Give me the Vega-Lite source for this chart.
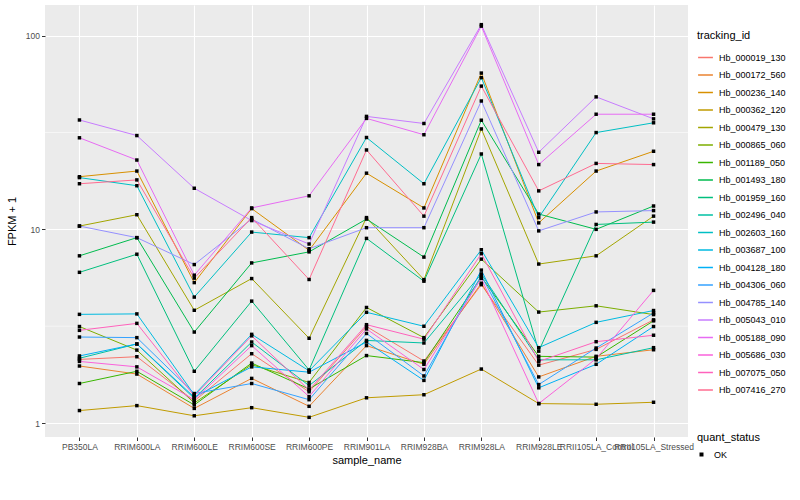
{
  "$schema": "https://vega.github.io/schema/vega-lite/v6.json",
  "width": 643,
  "height": 432,
  "autosize": {"type": "none"},
  "padding": {"left": 45, "top": 5, "right": 112, "bottom": 63},
  "background": "white",
  "config": {
    "font": "Liberation Sans",
    "view": {"fill": "#EBEBEB", "stroke": null},
    "axis": {
      "domain": false,
      "gridColor": "white",
      "gridWidth": 1.1,
      "tickColor": "#333333",
      "tickSize": 3.5,
      "labelColor": "#4D4D4D",
      "labelFont": "Liberation Sans",
      "labelFontSize": 8.5,
      "titleFont": "Liberation Sans",
      "titleFontSize": 11,
      "titleFontWeight": "normal",
      "titleColor": "black"
    },
    "legend": {
      "titleFont": "Liberation Sans",
      "titleFontSize": 11,
      "titleFontWeight": "normal",
      "titleColor": "black",
      "labelFont": "Liberation Sans",
      "labelFontSize": 9,
      "labelColor": "black"
    }
  },
  "datasets": {
    "minor": [{"fpkm1": 3.1623}, {"fpkm1": 31.623}],
    "expr": [
      {"tracking_id": "Hb_000019_130", "sample_name": "PB350LA", "fpkm1": 2.13, "quant_status": "OK"},
      {"tracking_id": "Hb_000019_130", "sample_name": "RRIM600LA", "fpkm1": 2.20, "quant_status": "OK"},
      {"tracking_id": "Hb_000019_130", "sample_name": "RRIM600LE", "fpkm1": 1.30, "quant_status": "OK"},
      {"tracking_id": "Hb_000019_130", "sample_name": "RRIM600SE", "fpkm1": 2.28, "quant_status": "OK"},
      {"tracking_id": "Hb_000019_130", "sample_name": "RRIM600PE", "fpkm1": 1.45, "quant_status": "OK"},
      {"tracking_id": "Hb_000019_130", "sample_name": "RRIM901LA", "fpkm1": 3.15, "quant_status": "OK"},
      {"tracking_id": "Hb_000019_130", "sample_name": "RRIM928BA", "fpkm1": 2.09, "quant_status": "OK"},
      {"tracking_id": "Hb_000019_130", "sample_name": "RRIM928LA", "fpkm1": 5.18, "quant_status": "OK"},
      {"tracking_id": "Hb_000019_130", "sample_name": "RRIM928LE", "fpkm1": 1.99, "quant_status": "OK"},
      {"tracking_id": "Hb_000019_130", "sample_name": "RRII105LA_Control", "fpkm1": 2.40, "quant_status": "OK"},
      {"tracking_id": "Hb_000019_130", "sample_name": "RRII105LA_Stressed", "fpkm1": 3.41, "quant_status": "OK"},

      {"tracking_id": "Hb_000172_560", "sample_name": "PB350LA", "fpkm1": 1.97, "quant_status": "OK"},
      {"tracking_id": "Hb_000172_560", "sample_name": "RRIM600LA", "fpkm1": 1.79, "quant_status": "OK"},
      {"tracking_id": "Hb_000172_560", "sample_name": "RRIM600LE", "fpkm1": 1.19, "quant_status": "OK"},
      {"tracking_id": "Hb_000172_560", "sample_name": "RRIM600SE", "fpkm1": 1.70, "quant_status": "OK"},
      {"tracking_id": "Hb_000172_560", "sample_name": "RRIM600PE", "fpkm1": 1.22, "quant_status": "OK"},
      {"tracking_id": "Hb_000172_560", "sample_name": "RRIM901LA", "fpkm1": 2.51, "quant_status": "OK"},
      {"tracking_id": "Hb_000172_560", "sample_name": "RRIM928BA", "fpkm1": 2.01, "quant_status": "OK"},
      {"tracking_id": "Hb_000172_560", "sample_name": "RRIM928LA", "fpkm1": 5.27, "quant_status": "OK"},
      {"tracking_id": "Hb_000172_560", "sample_name": "RRIM928LE", "fpkm1": 1.73, "quant_status": "OK"},
      {"tracking_id": "Hb_000172_560", "sample_name": "RRII105LA_Control", "fpkm1": 2.21, "quant_status": "OK"},
      {"tracking_id": "Hb_000172_560", "sample_name": "RRII105LA_Stressed", "fpkm1": 2.39, "quant_status": "OK"},

      {"tracking_id": "Hb_000236_140", "sample_name": "PB350LA", "fpkm1": 18.7, "quant_status": "OK"},
      {"tracking_id": "Hb_000236_140", "sample_name": "RRIM600LA", "fpkm1": 20.0, "quant_status": "OK"},
      {"tracking_id": "Hb_000236_140", "sample_name": "RRIM600LE", "fpkm1": 5.31, "quant_status": "OK"},
      {"tracking_id": "Hb_000236_140", "sample_name": "RRIM600SE", "fpkm1": 12.8, "quant_status": "OK"},
      {"tracking_id": "Hb_000236_140", "sample_name": "RRIM600PE", "fpkm1": 7.79, "quant_status": "OK"},
      {"tracking_id": "Hb_000236_140", "sample_name": "RRIM901LA", "fpkm1": 19.5, "quant_status": "OK"},
      {"tracking_id": "Hb_000236_140", "sample_name": "RRIM928BA", "fpkm1": 12.9, "quant_status": "OK"},
      {"tracking_id": "Hb_000236_140", "sample_name": "RRIM928LA", "fpkm1": 64.1, "quant_status": "OK"},
      {"tracking_id": "Hb_000236_140", "sample_name": "RRIM928LE", "fpkm1": 10.8, "quant_status": "OK"},
      {"tracking_id": "Hb_000236_140", "sample_name": "RRII105LA_Control", "fpkm1": 20.0, "quant_status": "OK"},
      {"tracking_id": "Hb_000236_140", "sample_name": "RRII105LA_Stressed", "fpkm1": 25.3, "quant_status": "OK"},

      {"tracking_id": "Hb_000362_120", "sample_name": "PB350LA", "fpkm1": 1.16, "quant_status": "OK"},
      {"tracking_id": "Hb_000362_120", "sample_name": "RRIM600LA", "fpkm1": 1.23, "quant_status": "OK"},
      {"tracking_id": "Hb_000362_120", "sample_name": "RRIM600LE", "fpkm1": 1.09, "quant_status": "OK"},
      {"tracking_id": "Hb_000362_120", "sample_name": "RRIM600SE", "fpkm1": 1.20, "quant_status": "OK"},
      {"tracking_id": "Hb_000362_120", "sample_name": "RRIM600PE", "fpkm1": 1.07, "quant_status": "OK"},
      {"tracking_id": "Hb_000362_120", "sample_name": "RRIM901LA", "fpkm1": 1.35, "quant_status": "OK"},
      {"tracking_id": "Hb_000362_120", "sample_name": "RRIM928BA", "fpkm1": 1.40, "quant_status": "OK"},
      {"tracking_id": "Hb_000362_120", "sample_name": "RRIM928LA", "fpkm1": 1.90, "quant_status": "OK"},
      {"tracking_id": "Hb_000362_120", "sample_name": "RRIM928LE", "fpkm1": 1.26, "quant_status": "OK"},
      {"tracking_id": "Hb_000362_120", "sample_name": "RRII105LA_Control", "fpkm1": 1.25, "quant_status": "OK"},
      {"tracking_id": "Hb_000362_120", "sample_name": "RRII105LA_Stressed", "fpkm1": 1.28, "quant_status": "OK"},

      {"tracking_id": "Hb_000479_130", "sample_name": "PB350LA", "fpkm1": 10.4, "quant_status": "OK"},
      {"tracking_id": "Hb_000479_130", "sample_name": "RRIM600LA", "fpkm1": 11.9, "quant_status": "OK"},
      {"tracking_id": "Hb_000479_130", "sample_name": "RRIM600LE", "fpkm1": 3.82, "quant_status": "OK"},
      {"tracking_id": "Hb_000479_130", "sample_name": "RRIM600SE", "fpkm1": 5.57, "quant_status": "OK"},
      {"tracking_id": "Hb_000479_130", "sample_name": "RRIM600PE", "fpkm1": 2.74, "quant_status": "OK"},
      {"tracking_id": "Hb_000479_130", "sample_name": "RRIM901LA", "fpkm1": 11.5, "quant_status": "OK"},
      {"tracking_id": "Hb_000479_130", "sample_name": "RRIM928BA", "fpkm1": 5.5, "quant_status": "OK"},
      {"tracking_id": "Hb_000479_130", "sample_name": "RRIM928LA", "fpkm1": 33.0, "quant_status": "OK"},
      {"tracking_id": "Hb_000479_130", "sample_name": "RRIM928LE", "fpkm1": 6.62, "quant_status": "OK"},
      {"tracking_id": "Hb_000479_130", "sample_name": "RRII105LA_Control", "fpkm1": 7.30, "quant_status": "OK"},
      {"tracking_id": "Hb_000479_130", "sample_name": "RRII105LA_Stressed", "fpkm1": 11.7, "quant_status": "OK"},

      {"tracking_id": "Hb_000865_060", "sample_name": "PB350LA", "fpkm1": 3.15, "quant_status": "OK"},
      {"tracking_id": "Hb_000865_060", "sample_name": "RRIM600LA", "fpkm1": 2.38, "quant_status": "OK"},
      {"tracking_id": "Hb_000865_060", "sample_name": "RRIM600LE", "fpkm1": 1.27, "quant_status": "OK"},
      {"tracking_id": "Hb_000865_060", "sample_name": "RRIM600SE", "fpkm1": 2.00, "quant_status": "OK"},
      {"tracking_id": "Hb_000865_060", "sample_name": "RRIM600PE", "fpkm1": 1.62, "quant_status": "OK"},
      {"tracking_id": "Hb_000865_060", "sample_name": "RRIM901LA", "fpkm1": 3.95, "quant_status": "OK"},
      {"tracking_id": "Hb_000865_060", "sample_name": "RRIM928BA", "fpkm1": 2.76, "quant_status": "OK"},
      {"tracking_id": "Hb_000865_060", "sample_name": "RRIM928LA", "fpkm1": 7.02, "quant_status": "OK"},
      {"tracking_id": "Hb_000865_060", "sample_name": "RRIM928LE", "fpkm1": 3.74, "quant_status": "OK"},
      {"tracking_id": "Hb_000865_060", "sample_name": "RRII105LA_Control", "fpkm1": 4.03, "quant_status": "OK"},
      {"tracking_id": "Hb_000865_060", "sample_name": "RRII105LA_Stressed", "fpkm1": 3.63, "quant_status": "OK"},

      {"tracking_id": "Hb_001189_050", "sample_name": "PB350LA", "fpkm1": 1.60, "quant_status": "OK"},
      {"tracking_id": "Hb_001189_050", "sample_name": "RRIM600LA", "fpkm1": 1.85, "quant_status": "OK"},
      {"tracking_id": "Hb_001189_050", "sample_name": "RRIM600LE", "fpkm1": 1.24, "quant_status": "OK"},
      {"tracking_id": "Hb_001189_050", "sample_name": "RRIM600SE", "fpkm1": 2.04, "quant_status": "OK"},
      {"tracking_id": "Hb_001189_050", "sample_name": "RRIM600PE", "fpkm1": 1.50, "quant_status": "OK"},
      {"tracking_id": "Hb_001189_050", "sample_name": "RRIM901LA", "fpkm1": 2.23, "quant_status": "OK"},
      {"tracking_id": "Hb_001189_050", "sample_name": "RRIM928BA", "fpkm1": 2.05, "quant_status": "OK"},
      {"tracking_id": "Hb_001189_050", "sample_name": "RRIM928LA", "fpkm1": 5.68, "quant_status": "OK"},
      {"tracking_id": "Hb_001189_050", "sample_name": "RRIM928LE", "fpkm1": 2.21, "quant_status": "OK"},
      {"tracking_id": "Hb_001189_050", "sample_name": "RRII105LA_Control", "fpkm1": 2.19, "quant_status": "OK"},
      {"tracking_id": "Hb_001189_050", "sample_name": "RRII105LA_Stressed", "fpkm1": 3.37, "quant_status": "OK"},

      {"tracking_id": "Hb_001493_180", "sample_name": "PB350LA", "fpkm1": 7.3, "quant_status": "OK"},
      {"tracking_id": "Hb_001493_180", "sample_name": "RRIM600LA", "fpkm1": 9.06, "quant_status": "OK"},
      {"tracking_id": "Hb_001493_180", "sample_name": "RRIM600LE", "fpkm1": 2.95, "quant_status": "OK"},
      {"tracking_id": "Hb_001493_180", "sample_name": "RRIM600SE", "fpkm1": 6.71, "quant_status": "OK"},
      {"tracking_id": "Hb_001493_180", "sample_name": "RRIM600PE", "fpkm1": 7.65, "quant_status": "OK"},
      {"tracking_id": "Hb_001493_180", "sample_name": "RRIM901LA", "fpkm1": 11.3, "quant_status": "OK"},
      {"tracking_id": "Hb_001493_180", "sample_name": "RRIM928BA", "fpkm1": 7.19, "quant_status": "OK"},
      {"tracking_id": "Hb_001493_180", "sample_name": "RRIM928LA", "fpkm1": 36.6, "quant_status": "OK"},
      {"tracking_id": "Hb_001493_180", "sample_name": "RRIM928LE", "fpkm1": 12.0, "quant_status": "OK"},
      {"tracking_id": "Hb_001493_180", "sample_name": "RRII105LA_Control", "fpkm1": 10.0, "quant_status": "OK"},
      {"tracking_id": "Hb_001493_180", "sample_name": "RRII105LA_Stressed", "fpkm1": 13.2, "quant_status": "OK"},

      {"tracking_id": "Hb_001959_160", "sample_name": "PB350LA", "fpkm1": 6.0, "quant_status": "OK"},
      {"tracking_id": "Hb_001959_160", "sample_name": "RRIM600LA", "fpkm1": 7.44, "quant_status": "OK"},
      {"tracking_id": "Hb_001959_160", "sample_name": "RRIM600LE", "fpkm1": 1.85, "quant_status": "OK"},
      {"tracking_id": "Hb_001959_160", "sample_name": "RRIM600SE", "fpkm1": 4.26, "quant_status": "OK"},
      {"tracking_id": "Hb_001959_160", "sample_name": "RRIM600PE", "fpkm1": 1.88, "quant_status": "OK"},
      {"tracking_id": "Hb_001959_160", "sample_name": "RRIM901LA", "fpkm1": 8.98, "quant_status": "OK"},
      {"tracking_id": "Hb_001959_160", "sample_name": "RRIM928BA", "fpkm1": 5.40, "quant_status": "OK"},
      {"tracking_id": "Hb_001959_160", "sample_name": "RRIM928LA", "fpkm1": 24.5, "quant_status": "OK"},
      {"tracking_id": "Hb_001959_160", "sample_name": "RRIM928LE", "fpkm1": 2.35, "quant_status": "OK"},
      {"tracking_id": "Hb_001959_160", "sample_name": "RRII105LA_Control", "fpkm1": 10.6, "quant_status": "OK"},
      {"tracking_id": "Hb_001959_160", "sample_name": "RRII105LA_Stressed", "fpkm1": 10.9, "quant_status": "OK"},

      {"tracking_id": "Hb_002496_040", "sample_name": "PB350LA", "fpkm1": 2.16, "quant_status": "OK"},
      {"tracking_id": "Hb_002496_040", "sample_name": "RRIM600LA", "fpkm1": 2.56, "quant_status": "OK"},
      {"tracking_id": "Hb_002496_040", "sample_name": "RRIM600LE", "fpkm1": 1.34, "quant_status": "OK"},
      {"tracking_id": "Hb_002496_040", "sample_name": "RRIM600SE", "fpkm1": 2.62, "quant_status": "OK"},
      {"tracking_id": "Hb_002496_040", "sample_name": "RRIM600PE", "fpkm1": 1.56, "quant_status": "OK"},
      {"tracking_id": "Hb_002496_040", "sample_name": "RRIM901LA", "fpkm1": 2.67, "quant_status": "OK"},
      {"tracking_id": "Hb_002496_040", "sample_name": "RRIM928BA", "fpkm1": 2.59, "quant_status": "OK"},
      {"tracking_id": "Hb_002496_040", "sample_name": "RRIM928LA", "fpkm1": 5.89, "quant_status": "OK"},
      {"tracking_id": "Hb_002496_040", "sample_name": "RRIM928LE", "fpkm1": 2.12, "quant_status": "OK"},
      {"tracking_id": "Hb_002496_040", "sample_name": "RRII105LA_Control", "fpkm1": 2.12, "quant_status": "OK"},
      {"tracking_id": "Hb_002496_040", "sample_name": "RRII105LA_Stressed", "fpkm1": 2.45, "quant_status": "OK"},

      {"tracking_id": "Hb_002603_160", "sample_name": "PB350LA", "fpkm1": 18.5, "quant_status": "OK"},
      {"tracking_id": "Hb_002603_160", "sample_name": "RRIM600LA", "fpkm1": 16.8, "quant_status": "OK"},
      {"tracking_id": "Hb_002603_160", "sample_name": "RRIM600LE", "fpkm1": 4.47, "quant_status": "OK"},
      {"tracking_id": "Hb_002603_160", "sample_name": "RRIM600SE", "fpkm1": 9.68, "quant_status": "OK"},
      {"tracking_id": "Hb_002603_160", "sample_name": "RRIM600PE", "fpkm1": 9.06, "quant_status": "OK"},
      {"tracking_id": "Hb_002603_160", "sample_name": "RRIM901LA", "fpkm1": 29.8, "quant_status": "OK"},
      {"tracking_id": "Hb_002603_160", "sample_name": "RRIM928BA", "fpkm1": 17.2, "quant_status": "OK"},
      {"tracking_id": "Hb_002603_160", "sample_name": "RRIM928LA", "fpkm1": 60.7, "quant_status": "OK"},
      {"tracking_id": "Hb_002603_160", "sample_name": "RRIM928LE", "fpkm1": 11.5, "quant_status": "OK"},
      {"tracking_id": "Hb_002603_160", "sample_name": "RRII105LA_Control", "fpkm1": 31.6, "quant_status": "OK"},
      {"tracking_id": "Hb_002603_160", "sample_name": "RRII105LA_Stressed", "fpkm1": 35.5, "quant_status": "OK"},

      {"tracking_id": "Hb_003687_100", "sample_name": "PB350LA", "fpkm1": 3.64, "quant_status": "OK"},
      {"tracking_id": "Hb_003687_100", "sample_name": "RRIM600LA", "fpkm1": 3.66, "quant_status": "OK"},
      {"tracking_id": "Hb_003687_100", "sample_name": "RRIM600LE", "fpkm1": 1.40, "quant_status": "OK"},
      {"tracking_id": "Hb_003687_100", "sample_name": "RRIM600SE", "fpkm1": 2.87, "quant_status": "OK"},
      {"tracking_id": "Hb_003687_100", "sample_name": "RRIM600PE", "fpkm1": 1.86, "quant_status": "OK"},
      {"tracking_id": "Hb_003687_100", "sample_name": "RRIM901LA", "fpkm1": 3.73, "quant_status": "OK"},
      {"tracking_id": "Hb_003687_100", "sample_name": "RRIM928BA", "fpkm1": 3.16, "quant_status": "OK"},
      {"tracking_id": "Hb_003687_100", "sample_name": "RRIM928LA", "fpkm1": 7.85, "quant_status": "OK"},
      {"tracking_id": "Hb_003687_100", "sample_name": "RRIM928LE", "fpkm1": 2.45, "quant_status": "OK"},
      {"tracking_id": "Hb_003687_100", "sample_name": "RRII105LA_Control", "fpkm1": 3.31, "quant_status": "OK"},
      {"tracking_id": "Hb_003687_100", "sample_name": "RRII105LA_Stressed", "fpkm1": 3.81, "quant_status": "OK"},

      {"tracking_id": "Hb_004128_180", "sample_name": "PB350LA", "fpkm1": 2.22, "quant_status": "OK"},
      {"tracking_id": "Hb_004128_180", "sample_name": "RRIM600LA", "fpkm1": 2.56, "quant_status": "OK"},
      {"tracking_id": "Hb_004128_180", "sample_name": "RRIM600LE", "fpkm1": 1.36, "quant_status": "OK"},
      {"tracking_id": "Hb_004128_180", "sample_name": "RRIM600SE", "fpkm1": 1.95, "quant_status": "OK"},
      {"tracking_id": "Hb_004128_180", "sample_name": "RRIM600PE", "fpkm1": 1.83, "quant_status": "OK"},
      {"tracking_id": "Hb_004128_180", "sample_name": "RRIM901LA", "fpkm1": 2.62, "quant_status": "OK"},
      {"tracking_id": "Hb_004128_180", "sample_name": "RRIM928BA", "fpkm1": 1.66, "quant_status": "OK"},
      {"tracking_id": "Hb_004128_180", "sample_name": "RRIM928LA", "fpkm1": 6.16, "quant_status": "OK"},
      {"tracking_id": "Hb_004128_180", "sample_name": "RRIM928LE", "fpkm1": 1.52, "quant_status": "OK"},
      {"tracking_id": "Hb_004128_180", "sample_name": "RRII105LA_Control", "fpkm1": 2.01, "quant_status": "OK"},
      {"tracking_id": "Hb_004128_180", "sample_name": "RRII105LA_Stressed", "fpkm1": 3.15, "quant_status": "OK"},

      {"tracking_id": "Hb_004306_060", "sample_name": "PB350LA", "fpkm1": 2.78, "quant_status": "OK"},
      {"tracking_id": "Hb_004306_060", "sample_name": "RRIM600LA", "fpkm1": 2.76, "quant_status": "OK"},
      {"tracking_id": "Hb_004306_060", "sample_name": "RRIM600LE", "fpkm1": 1.42, "quant_status": "OK"},
      {"tracking_id": "Hb_004306_060", "sample_name": "RRIM600SE", "fpkm1": 1.60, "quant_status": "OK"},
      {"tracking_id": "Hb_004306_060", "sample_name": "RRIM600PE", "fpkm1": 1.32, "quant_status": "OK"},
      {"tracking_id": "Hb_004306_060", "sample_name": "RRIM901LA", "fpkm1": 2.90, "quant_status": "OK"},
      {"tracking_id": "Hb_004306_060", "sample_name": "RRIM928BA", "fpkm1": 1.75, "quant_status": "OK"},
      {"tracking_id": "Hb_004306_060", "sample_name": "RRIM928LA", "fpkm1": 5.78, "quant_status": "OK"},
      {"tracking_id": "Hb_004306_060", "sample_name": "RRIM928LE", "fpkm1": 1.58, "quant_status": "OK"},
      {"tracking_id": "Hb_004306_060", "sample_name": "RRII105LA_Control", "fpkm1": 2.44, "quant_status": "OK"},
      {"tracking_id": "Hb_004306_060", "sample_name": "RRII105LA_Stressed", "fpkm1": 3.70, "quant_status": "OK"},

      {"tracking_id": "Hb_004785_140", "sample_name": "PB350LA", "fpkm1": 10.4, "quant_status": "OK"},
      {"tracking_id": "Hb_004785_140", "sample_name": "RRIM600LA", "fpkm1": 9.06, "quant_status": "OK"},
      {"tracking_id": "Hb_004785_140", "sample_name": "RRIM600LE", "fpkm1": 6.58, "quant_status": "OK"},
      {"tracking_id": "Hb_004785_140", "sample_name": "RRIM600SE", "fpkm1": 11.3, "quant_status": "OK"},
      {"tracking_id": "Hb_004785_140", "sample_name": "RRIM600PE", "fpkm1": 7.94, "quant_status": "OK"},
      {"tracking_id": "Hb_004785_140", "sample_name": "RRIM901LA", "fpkm1": 10.2, "quant_status": "OK"},
      {"tracking_id": "Hb_004785_140", "sample_name": "RRIM928BA", "fpkm1": 10.2, "quant_status": "OK"},
      {"tracking_id": "Hb_004785_140", "sample_name": "RRIM928LA", "fpkm1": 46.0, "quant_status": "OK"},
      {"tracking_id": "Hb_004785_140", "sample_name": "RRIM928LE", "fpkm1": 9.82, "quant_status": "OK"},
      {"tracking_id": "Hb_004785_140", "sample_name": "RRII105LA_Control", "fpkm1": 12.3, "quant_status": "OK"},
      {"tracking_id": "Hb_004785_140", "sample_name": "RRII105LA_Stressed", "fpkm1": 12.5, "quant_status": "OK"},

      {"tracking_id": "Hb_005043_010", "sample_name": "PB350LA", "fpkm1": 36.7, "quant_status": "OK"},
      {"tracking_id": "Hb_005043_010", "sample_name": "RRIM600LA", "fpkm1": 30.5, "quant_status": "OK"},
      {"tracking_id": "Hb_005043_010", "sample_name": "RRIM600LE", "fpkm1": 16.3, "quant_status": "OK"},
      {"tracking_id": "Hb_005043_010", "sample_name": "RRIM600SE", "fpkm1": 11.1, "quant_status": "OK"},
      {"tracking_id": "Hb_005043_010", "sample_name": "RRIM600PE", "fpkm1": 8.40, "quant_status": "OK"},
      {"tracking_id": "Hb_005043_010", "sample_name": "RRIM901LA", "fpkm1": 38.3, "quant_status": "OK"},
      {"tracking_id": "Hb_005043_010", "sample_name": "RRIM928BA", "fpkm1": 35.2, "quant_status": "OK"},
      {"tracking_id": "Hb_005043_010", "sample_name": "RRIM928LA", "fpkm1": 114, "quant_status": "OK"},
      {"tracking_id": "Hb_005043_010", "sample_name": "RRIM928LE", "fpkm1": 25.0, "quant_status": "OK"},
      {"tracking_id": "Hb_005043_010", "sample_name": "RRII105LA_Control", "fpkm1": 48.3, "quant_status": "OK"},
      {"tracking_id": "Hb_005043_010", "sample_name": "RRII105LA_Stressed", "fpkm1": 37.2, "quant_status": "OK"},

      {"tracking_id": "Hb_005188_090", "sample_name": "PB350LA", "fpkm1": 29.7, "quant_status": "OK"},
      {"tracking_id": "Hb_005188_090", "sample_name": "RRIM600LA", "fpkm1": 22.8, "quant_status": "OK"},
      {"tracking_id": "Hb_005188_090", "sample_name": "RRIM600LE", "fpkm1": 5.8, "quant_status": "OK"},
      {"tracking_id": "Hb_005188_090", "sample_name": "RRIM600SE", "fpkm1": 12.9, "quant_status": "OK"},
      {"tracking_id": "Hb_005188_090", "sample_name": "RRIM600PE", "fpkm1": 14.9, "quant_status": "OK"},
      {"tracking_id": "Hb_005188_090", "sample_name": "RRIM901LA", "fpkm1": 37.4, "quant_status": "OK"},
      {"tracking_id": "Hb_005188_090", "sample_name": "RRIM928BA", "fpkm1": 30.8, "quant_status": "OK"},
      {"tracking_id": "Hb_005188_090", "sample_name": "RRIM928LA", "fpkm1": 112, "quant_status": "OK"},
      {"tracking_id": "Hb_005188_090", "sample_name": "RRIM928LE", "fpkm1": 21.6, "quant_status": "OK"},
      {"tracking_id": "Hb_005188_090", "sample_name": "RRII105LA_Control", "fpkm1": 39.3, "quant_status": "OK"},
      {"tracking_id": "Hb_005188_090", "sample_name": "RRII105LA_Stressed", "fpkm1": 39.3, "quant_status": "OK"},

      {"tracking_id": "Hb_005686_030", "sample_name": "PB350LA", "fpkm1": 2.08, "quant_status": "OK"},
      {"tracking_id": "Hb_005686_030", "sample_name": "RRIM600LA", "fpkm1": 1.95, "quant_status": "OK"},
      {"tracking_id": "Hb_005686_030", "sample_name": "RRIM600LE", "fpkm1": 1.32, "quant_status": "OK"},
      {"tracking_id": "Hb_005686_030", "sample_name": "RRIM600SE", "fpkm1": 2.51, "quant_status": "OK"},
      {"tracking_id": "Hb_005686_030", "sample_name": "RRIM600PE", "fpkm1": 1.37, "quant_status": "OK"},
      {"tracking_id": "Hb_005686_030", "sample_name": "RRIM901LA", "fpkm1": 3.06, "quant_status": "OK"},
      {"tracking_id": "Hb_005686_030", "sample_name": "RRIM928BA", "fpkm1": 1.89, "quant_status": "OK"},
      {"tracking_id": "Hb_005686_030", "sample_name": "RRIM928LA", "fpkm1": 5.58, "quant_status": "OK"},
      {"tracking_id": "Hb_005686_030", "sample_name": "RRIM928LE", "fpkm1": 1.26, "quant_status": "OK"},
      {"tracking_id": "Hb_005686_030", "sample_name": "RRII105LA_Control", "fpkm1": 2.15, "quant_status": "OK"},
      {"tracking_id": "Hb_005686_030", "sample_name": "RRII105LA_Stressed", "fpkm1": 4.84, "quant_status": "OK"},

      {"tracking_id": "Hb_007075_050", "sample_name": "PB350LA", "fpkm1": 3.01, "quant_status": "OK"},
      {"tracking_id": "Hb_007075_050", "sample_name": "RRIM600LA", "fpkm1": 3.27, "quant_status": "OK"},
      {"tracking_id": "Hb_007075_050", "sample_name": "RRIM600LE", "fpkm1": 1.38, "quant_status": "OK"},
      {"tracking_id": "Hb_007075_050", "sample_name": "RRIM600SE", "fpkm1": 2.82, "quant_status": "OK"},
      {"tracking_id": "Hb_007075_050", "sample_name": "RRIM600PE", "fpkm1": 1.48, "quant_status": "OK"},
      {"tracking_id": "Hb_007075_050", "sample_name": "RRIM901LA", "fpkm1": 3.22, "quant_status": "OK"},
      {"tracking_id": "Hb_007075_050", "sample_name": "RRIM928BA", "fpkm1": 2.71, "quant_status": "OK"},
      {"tracking_id": "Hb_007075_050", "sample_name": "RRIM928LA", "fpkm1": 7.49, "quant_status": "OK"},
      {"tracking_id": "Hb_007075_050", "sample_name": "RRIM928LE", "fpkm1": 2.08, "quant_status": "OK"},
      {"tracking_id": "Hb_007075_050", "sample_name": "RRII105LA_Control", "fpkm1": 2.63, "quant_status": "OK"},
      {"tracking_id": "Hb_007075_050", "sample_name": "RRII105LA_Stressed", "fpkm1": 2.84, "quant_status": "OK"},

      {"tracking_id": "Hb_007416_270", "sample_name": "PB350LA", "fpkm1": 17.2, "quant_status": "OK"},
      {"tracking_id": "Hb_007416_270", "sample_name": "RRIM600LA", "fpkm1": 18.0, "quant_status": "OK"},
      {"tracking_id": "Hb_007416_270", "sample_name": "RRIM600LE", "fpkm1": 5.6, "quant_status": "OK"},
      {"tracking_id": "Hb_007416_270", "sample_name": "RRIM600SE", "fpkm1": 11.5, "quant_status": "OK"},
      {"tracking_id": "Hb_007416_270", "sample_name": "RRIM600PE", "fpkm1": 5.51, "quant_status": "OK"},
      {"tracking_id": "Hb_007416_270", "sample_name": "RRIM901LA", "fpkm1": 25.7, "quant_status": "OK"},
      {"tracking_id": "Hb_007416_270", "sample_name": "RRIM928BA", "fpkm1": 11.7, "quant_status": "OK"},
      {"tracking_id": "Hb_007416_270", "sample_name": "RRIM928LA", "fpkm1": 54.9, "quant_status": "OK"},
      {"tracking_id": "Hb_007416_270", "sample_name": "RRIM928LE", "fpkm1": 15.8, "quant_status": "OK"},
      {"tracking_id": "Hb_007416_270", "sample_name": "RRII105LA_Control", "fpkm1": 21.9, "quant_status": "OK"},
      {"tracking_id": "Hb_007416_270", "sample_name": "RRII105LA_Stressed", "fpkm1": 21.6, "quant_status": "OK"}
    ]
  },
  "layer": [
    {
      "data": {"name": "minor"},
      "mark": {"type": "rule", "color": "white", "strokeWidth": 0.55},
      "encoding": {
        "y": {"field": "fpkm1", "type": "quantitative", "scale": {"type": "log", "domain": [0.847, 144], "nice": false, "zero": false}}
      }
    },
    {
      "data": {"name": "expr"},
      "mark": {"type": "line", "strokeWidth": 1},
      "encoding": {
        "x": {
          "field": "sample_name", "type": "nominal",
          "sort": ["PB350LA", "RRIM600LA", "RRIM600LE", "RRIM600SE", "RRIM600PE", "RRIM901LA", "RRIM928BA", "RRIM928LA", "RRIM928LE", "RRII105LA_Control", "RRII105LA_Stressed"],
          "scale": {"type": "point", "padding": 0.6},
          "axis": {"title": "sample_name", "grid": true, "labelAngle": 0, "labelPadding": 2, "titlePadding": 3}
        },
        "y": {
          "field": "fpkm1", "type": "quantitative",
          "scale": {"type": "log", "domain": [0.847, 144], "nice": false, "zero": false},
          "axis": {"title": "FPKM + 1", "values": [1, 10, 100], "format": "d", "grid": true, "labelPadding": 2, "titlePadding": 8}
        },
        "color": {
          "field": "tracking_id", "type": "nominal",
          "scale": {
            "domain": ["Hb_000019_130", "Hb_000172_560", "Hb_000236_140", "Hb_000362_120", "Hb_000479_130", "Hb_000865_060", "Hb_001189_050", "Hb_001493_180", "Hb_001959_160", "Hb_002496_040", "Hb_002603_160", "Hb_003687_100", "Hb_004128_180", "Hb_004306_060", "Hb_004785_140", "Hb_005043_010", "Hb_005188_090", "Hb_005686_030", "Hb_007075_050", "Hb_007416_270"],
            "range": ["#F8766D", "#EA8331", "#D89000", "#C09B00", "#A3A500", "#7CAE00", "#39B600", "#00BB4E", "#00BF7D", "#00C1A3", "#00BFC4", "#00BAE0", "#00B0F6", "#35A2FF", "#9590FF", "#C77CFF", "#E76BF3", "#FA62DB", "#FF62BC", "#FF6C91"]
          },
          "legend": {
            "title": "tracking_id",
            "orient": "none",
            "legendX": 652,
            "legendY": 25,
            "symbolType": "stroke",
            "symbolSize": 220,
            "symbolStrokeWidth": 1.5,
            "rowPadding": 3.5,
            "labelOffset": 5,
            "titlePadding": 8
          }
        }
      }
    },
    {
      "data": {"name": "expr"},
      "mark": {"type": "point", "filled": true, "color": "black", "size": 12, "opacity": 1},
      "encoding": {
        "x": {"field": "sample_name", "type": "nominal", "sort": ["PB350LA", "RRIM600LA", "RRIM600LE", "RRIM600SE", "RRIM600PE", "RRIM901LA", "RRIM928BA", "RRIM928LA", "RRIM928LE", "RRII105LA_Control", "RRII105LA_Stressed"]},
        "y": {"field": "fpkm1", "type": "quantitative"},
        "shape": {
          "field": "quant_status", "type": "nominal",
          "scale": {"range": ["square"]},
          "legend": {
            "title": "quant_status",
            "orient": "none",
            "legendX": 652,
            "legendY": 427,
            "symbolSize": 16,
            "symbolFillColor": "black",
            "symbolStrokeColor": "black",
            "labelOffset": 8,
            "titlePadding": 7
          }
        }
      }
    }
  ]
}
